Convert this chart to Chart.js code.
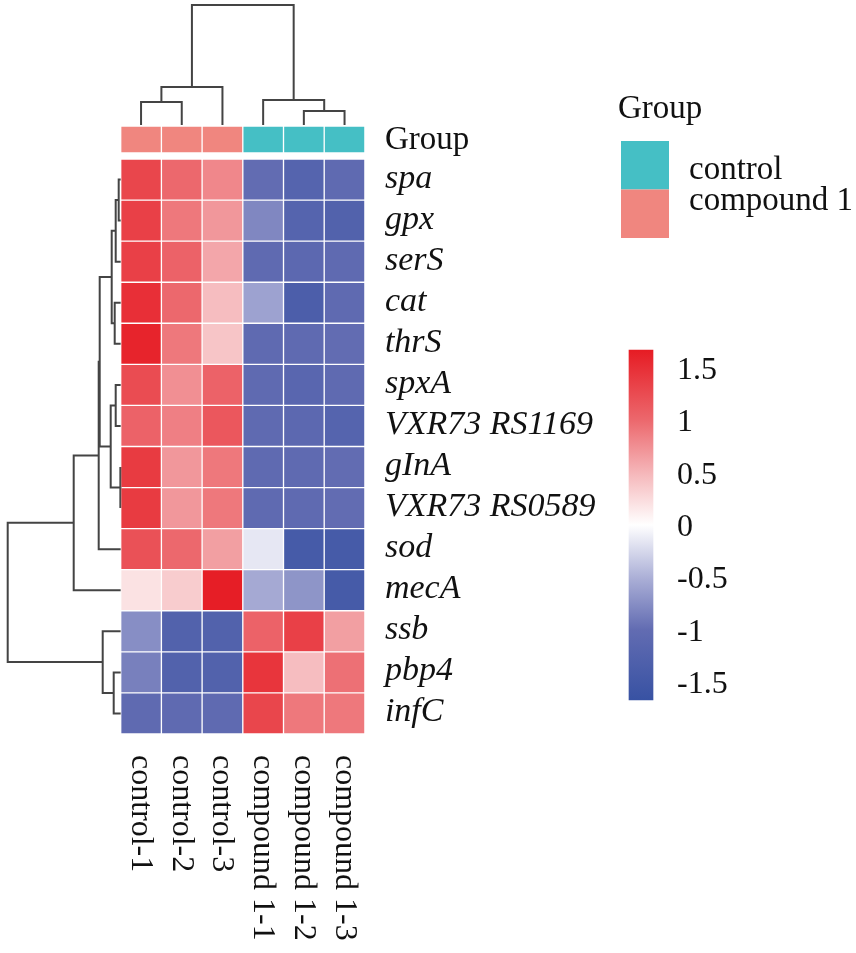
<!DOCTYPE html>
<html>
<head>
<meta charset="utf-8">
<script src="https://cdn.jsdelivr.net/npm/chart.js@4.4.1/dist/chart.umd.min.js"></script>
<style>
  html, body { margin: 0; padding: 0; background: #fff; }
  #wrap { width: 856px; height: 953px; position: relative; }
</style>
</head>
<body>
<div id="wrap"><canvas id="heatmapChart"></canvas></div>
<script>
// Rows (genes) and columns (samples) in dendrogram order
const genes = ['spa', 'gpx', 'serS', 'cat', 'thrS', 'spxA', 'VXR73 RS1169', 'gInA',
  'VXR73 RS0589', 'sod', 'mecA', 'ssb', 'pbp4', 'infC'];
const samples = ['control-1', 'control-2', 'control-3', 'compound 1-1', 'compound 1-2', 'compound 1-3'];

// Scaled expression (z-score) per sample, one value per gene
const control1 = [1.3, 1.35, 1.35, 1.5, 1.6, 1.25, 1.05, 1.4, 1.4, 1.2, 0.2, -0.75, -0.85, -1.05];
const control2 = [1.0, 0.9, 1.05, 1.0, 0.9, 0.75, 0.85, 0.7, 0.7, 1.0, 0.35, -1.25, -1.25, -1.05];
const control3 = [0.8, 0.7, 0.6, 0.45, 0.4, 1.05, 1.15, 0.9, 0.9, 0.65, 1.65, -1.25, -1.25, -1.05];
const compound11 = [-1.0, -0.8, -1.05, -0.6, -1.05, -1.05, -1.05, -1.05, -1.05, -0.15, -0.55, 1.05, 1.45, 1.3];
const compound12 = [-1.2, -1.2, -1.1, -1.35, -1.05, -1.15, -1.1, -1.05, -1.05, -1.45, -0.7, 1.35, 0.45, 0.9];
const compound13 = [-1.05, -1.25, -1.05, -1.05, -1.0, -1.05, -1.2, -1.0, -1.0, -1.45, -1.45, 0.65, 0.95, 0.9];
const heatColumns = [control1, control2, control3, compound11, compound12, compound13];

// Column annotation as shown in the figure
const columnGroups = ['compound 1', 'compound 1', 'compound 1', 'control', 'control', 'control'];
const groupNames = ['control', 'compound 1'];

// Cluster merges (hclust style: negative = leaf, positive = earlier merge), with heights
const rowMerges = [
  [-8, -9, 0.5], [-1, -2, 2], [2, -3, 5], [-6, -7, 5], [-4, -5, 6], [-13, -14, 7],
  [3, 5, 9], [4, 1, 10], [-12, 6, 18], [7, 8, 21], [10, -10, 22], [11, -11, 47], [12, 9, 113]
];
const colMerges = [[-5, -6, 14], [-1, -2, 23], [-4, 1, 25], [2, -3, 38], [4, 3, 120]];

// Colour key
const colorTicks = [1.5, 1, 0.5, 0, -0.5, -1, -1.5];
const colorLimit = 1.67;

// ---- styling ----
const groupColors = { 'control': '#45bfc5', 'compound 1': '#f0867f' };
const colorStops = [
  [-1.67, [56, 82, 163]], [-1, [98, 108, 178]], [-0.5, [172, 176, 215]], [0, [255, 255, 255]],
  [0.5, [245, 182, 185]], [1, [236, 104, 109]], [1.67, [230, 28, 36]]
];
const serif = '"Liberation Serif", "Times New Roman", serif';
const lineColor = '#444';

// layout of the heatmap on the 856x953 page (pixels)
const W = 40.7, H = 41.07, L = 120.7, T = 159;
const rowTreeWidth = 113 / W;     // x units
const colTreeHeight = 120 / H;    // y units
const colLeafY = (125 - T) / H;
const groupTop = (126 - T) / H, groupBottom = (153 - T) / H;
const colorBarX = (641 - L) / W;

function heatColor(v) {
  v = Math.max(-colorLimit, Math.min(colorLimit, v));
  for (let k = 1; k < colorStops.length; k++) {
    const [v0, c0] = colorStops[k - 1], [v1, c1] = colorStops[k];
    if (v <= v1) {
      const t = (v - v0) / (v1 - v0);
      const c = c0.map((a, i) => Math.round(a + (c1[i] - a) * t));
      return `rgb(${c[0]},${c[1]},${c[2]})`;
    }
  }
  const c = colorStops[colorStops.length - 1][1];
  return `rgb(${c[0]},${c[1]},${c[2]})`;
}

// build dendrogram U-shapes from merge table
function treeShapes(merges) {
  const pos = [], ht = [], shapes = [];
  merges.forEach(([a, b, h], k) => {
    const pa = a < 0 ? -a - 0.5 : pos[a - 1], ha = a < 0 ? 0 : ht[a - 1];
    const pb = b < 0 ? -b - 0.5 : pos[b - 1], hb = b < 0 ? 0 : ht[b - 1];
    pos[k] = (pa + pb) / 2;
    ht[k] = h;
    shapes.push([[pa, ha], [pa, h], [pb, h], [pb, hb]]);
  });
  return { shapes, maxH: Math.max(...ht) };
}

const rowTree = treeShapes(rowMerges);
const colTree = treeShapes(colMerges);

const lineStyle = {
  type: 'line', borderColor: lineColor, borderWidth: 2, pointRadius: 0,
  fill: false, tension: 0, borderJoinStyle: 'miter', xAxisID: 'x', yAxisID: 'y'
};

const rowTreeSets = rowTree.shapes.map(s => Object.assign({
  data: s.map(([p, h]) => ({ x: -h / rowTree.maxH * rowTreeWidth, y: p }))
}, lineStyle));
const colTreeSets = colTree.shapes.map(s => Object.assign({
  data: s.map(([p, h]) => ({ x: p, y: colLeafY - h / colTree.maxH * colTreeHeight }))
}, lineStyle));

const barStyle = {
  type: 'bar', grouped: false, barPercentage: 1, categoryPercentage: 1,
  borderSkipped: false, xAxisID: 'x', yAxisID: 'y'
};

const heatSets = genes.map((g, i) => Object.assign({
  label: g,
  data: samples.map((s, j) => ({ x: j + 0.5, y: [i, i + 1] })),
  backgroundColor: heatColumns.map(col => heatColor(col[i])),
  borderColor: 'rgba(255,255,255,0.12)', borderWidth: 1
}, barStyle));

const groupSet = Object.assign({
  label: 'Group',
  data: samples.map((s, j) => ({ x: j + 0.5, y: [groupTop, groupBottom] })),
  backgroundColor: columnGroups.map(g => groupColors[g]),
  borderColor: 'rgba(255,255,255,0.15)', borderWidth: 1
}, barStyle);

function colorBarFill(ctx) {
  const chart = ctx.chart, s = chart.scales.yc;
  if (!chart.chartArea || !s) return '#fff';
  const g = chart.ctx.createLinearGradient(0, s.getPixelForValue(colorLimit), 0, s.getPixelForValue(-colorLimit));
  colorStops.forEach(([v, c]) => {
    g.addColorStop((colorLimit - v) / (2 * colorLimit), `rgb(${c[0]},${c[1]},${c[2]})`);
  });
  return g;
}

const colorBarSet = {
  type: 'bar', label: 'key', grouped: false, barThickness: 24,
  data: [{ x: colorBarX, y: [-colorLimit, colorLimit] }],
  backgroundColor: colorBarFill, xAxisID: 'x', yAxisID: 'yc'
};

// text, rotated labels and group legend
const labelsPlugin = {
  id: 'heatLabels',
  afterDatasetsDraw(chart) {
    const ctx = chart.ctx, xs = chart.scales.x, ys = chart.scales.y, yc = chart.scales.yc;
    const labelX = xs.getPixelForValue(samples.length) + 20;
    ctx.save();
    ctx.fillStyle = '#111';
    ctx.textAlign = 'left';
    ctx.textBaseline = 'alphabetic';

    ctx.font = '33px ' + serif;
    ctx.fillText('Group', labelX, ys.getPixelForValue((groupTop + groupBottom) / 2) + 9);

    ctx.font = 'italic 34px ' + serif;
    genes.forEach((g, i) => ctx.fillText(g, labelX, ys.getPixelForValue(i + 0.5) + 8));

    ctx.font = '32px ' + serif;
    const labelTop = ys.getPixelForValue(genes.length) + 21;
    samples.forEach((s, j) => {
      ctx.save();
      ctx.translate(xs.getPixelForValue(j + 0.5), labelTop);
      ctx.rotate(Math.PI / 2);
      ctx.fillText(s, 0, 9);
      ctx.restore();
    });

    // group legend
    ctx.font = '33px ' + serif;
    ctx.fillText('Group', 618, 118);
    groupNames.forEach((g, k) => {
      ctx.fillStyle = groupColors[g];
      ctx.fillRect(621, 141 + k * 48.5, 48, 48.5);
      ctx.fillStyle = '#111';
      ctx.fillText(g, 689, 179 + k * 31);
    });

    // colour key labels
    ctx.font = '32px ' + serif;
    colorTicks.forEach(v => {
      ctx.fillText(String(v), 677, yc.getPixelForValue(v) + 11);
    });
    ctx.restore();
  }
};

const config = {
  type: 'bar',
  data: { datasets: [...heatSets, groupSet, colorBarSet, ...rowTreeSets, ...colTreeSets] },
  options: {
    responsive: true,
    maintainAspectRatio: false,
    animation: false,
    events: [],
    layout: { padding: 0 },
    plugins: { legend: { display: false }, tooltip: { enabled: false } },
    scales: {
      x: {
        type: 'linear', display: false, offset: false,
        min: -L / W, max: (856 - L) / W,
        ticks: { stepSize: 1, includeBounds: false }
      },
      y: {
        type: 'linear', display: false, reverse: true, beginAtZero: false,
        min: -T / H, max: (953 - T) / H,
        ticks: { includeBounds: false }
      },
      yc: {
        type: 'linear', display: false, beginAtZero: false,
        min: -1.5 - (953 - 682) / 104.67, max: 1.5 + 368 / 104.67
      }
    }
  },
  plugins: [labelsPlugin]
};

const ctx = document.getElementById('heatmapChart').getContext('2d');
new Chart(ctx, config);
</script>
</body>
</html>
